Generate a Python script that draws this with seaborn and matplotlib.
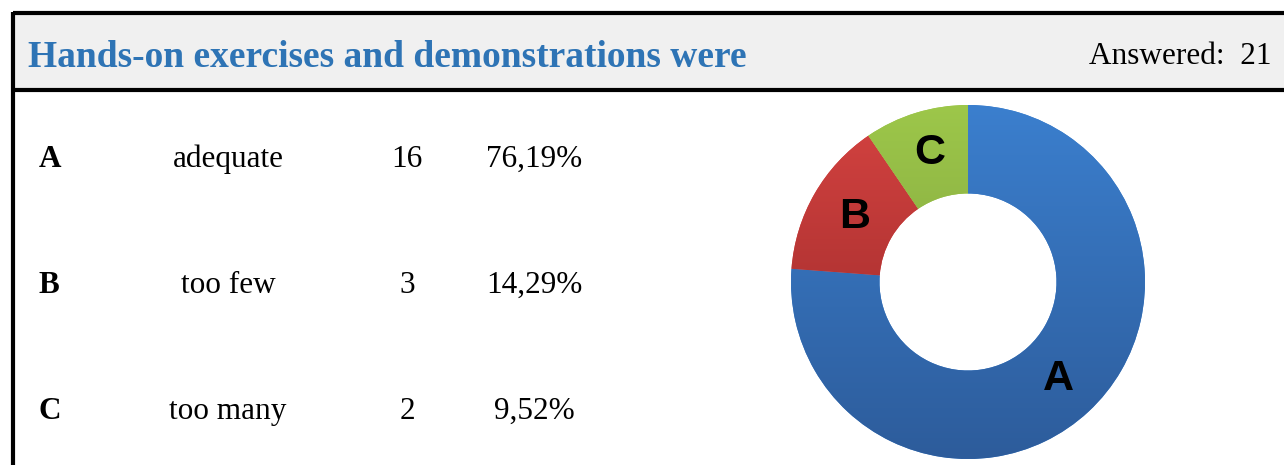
import matplotlib.pyplot as plt
import numpy as np
import seaborn as sns
from matplotlib.colors import LinearSegmentedColormap
from matplotlib.patches import Rectangle

# Dados da pesquisa
title = 'Hands-on exercises and demonstrations were'
answered = 21
letters = ['A', 'B', 'C']
options = ['adequate', 'too few', 'too many']
counts = [16, 3, 2]
percents = ['76,19%', '14,29%', '9,52%']

# Cores (topo, base) do degradê de cada fatia
slice_colors = [('#3B7FCE', '#2D5C9B'), ('#D54341', '#932626'), ('#9DC74A', '#76963A')]

sns.set_theme(style='white')
plt.rcParams['font.family'] = ['Liberation Serif', 'DejaVu Serif']
plt.rcParams['text.color'] = 'black'

fig = plt.figure(figsize=(12.88, 4.65), dpi=100)

# Fundo em coordenadas de pixel
ax = fig.add_axes([0, 0, 1, 1])
ax.set_xlim(0, 1288)
ax.set_ylim(465, 0)
ax.axis('off')

ax.add_patch(Rectangle((13, 13), 1271, 77, facecolor='#F0F0F0', edgecolor='none'))
ax.plot([13, 1284], [13, 13], color='black', lw=3, solid_capstyle='butt')
ax.plot([13, 1284], [90, 90], color='black', lw=3, solid_capstyle='butt')
ax.plot([13, 13], [12, 465], color='black', lw=3, solid_capstyle='butt')

ax.text(28, 67, title, color='#2E74B5', fontsize=27, fontweight='bold', va='baseline', ha='left')
ax.text(1272, 64, f'Answered:  {answered}', color='black', fontsize=22.5, va='baseline', ha='right')

# Linhas da tabela
row_y = [167, 293, 419]
for y, let, opt, cnt, pct in zip(row_y, letters, options, counts, percents):
    ax.text(39, y, let, fontsize=22.5, fontweight='bold', va='baseline', ha='left')
    ax.text(228, y, opt, fontsize=22.5, va='baseline', ha='center')
    ax.text(407, y, str(cnt), fontsize=22.5, va='baseline', ha='center')
    ax.text(534, y, pct, fontsize=22.5, va='baseline', ha='center')

# Gráfico de rosca
cx, cy, r = 968, 282, 177
pie_ax = fig.add_axes([(cx - r) / 1288, (465 - cy - r) / 465, 2 * r / 1288, 2 * r / 465])
wedges, _ = pie_ax.pie(counts, startangle=90, counterclock=False, radius=1,
                       colors=[c[0] for c in slice_colors],
                       wedgeprops=dict(width=0.5, edgecolor='none'))
pie_ax.set_xlim(-1, 1)
pie_ax.set_ylim(-1, 1)
pie_ax.set_aspect('equal')
pie_ax.axis('off')

grad = np.linspace(0, 1, 256).reshape(-1, 1)
for w, (top, bottom) in zip(wedges, slice_colors):
    cmap = LinearSegmentedColormap.from_list('g', [top, bottom])
    im = pie_ax.imshow(grad, cmap=cmap, extent=[-1, 1, -1, 1], origin='upper', aspect='auto', zorder=2)
    im.set_clip_path(w)

# Rótulos das fatias
label_pos = [(0.51, -0.55), (-0.64, 0.37), (-0.215, 0.73)]
for (lx, ly), let in zip(label_pos, letters):
    pie_ax.text(lx, ly, let, fontsize=31, fontweight='bold', ha='center', va='center', color='black',
                family=['Liberation Sans', 'DejaVu Sans'], zorder=3)

fig.savefig('out.png', dpi=100)
